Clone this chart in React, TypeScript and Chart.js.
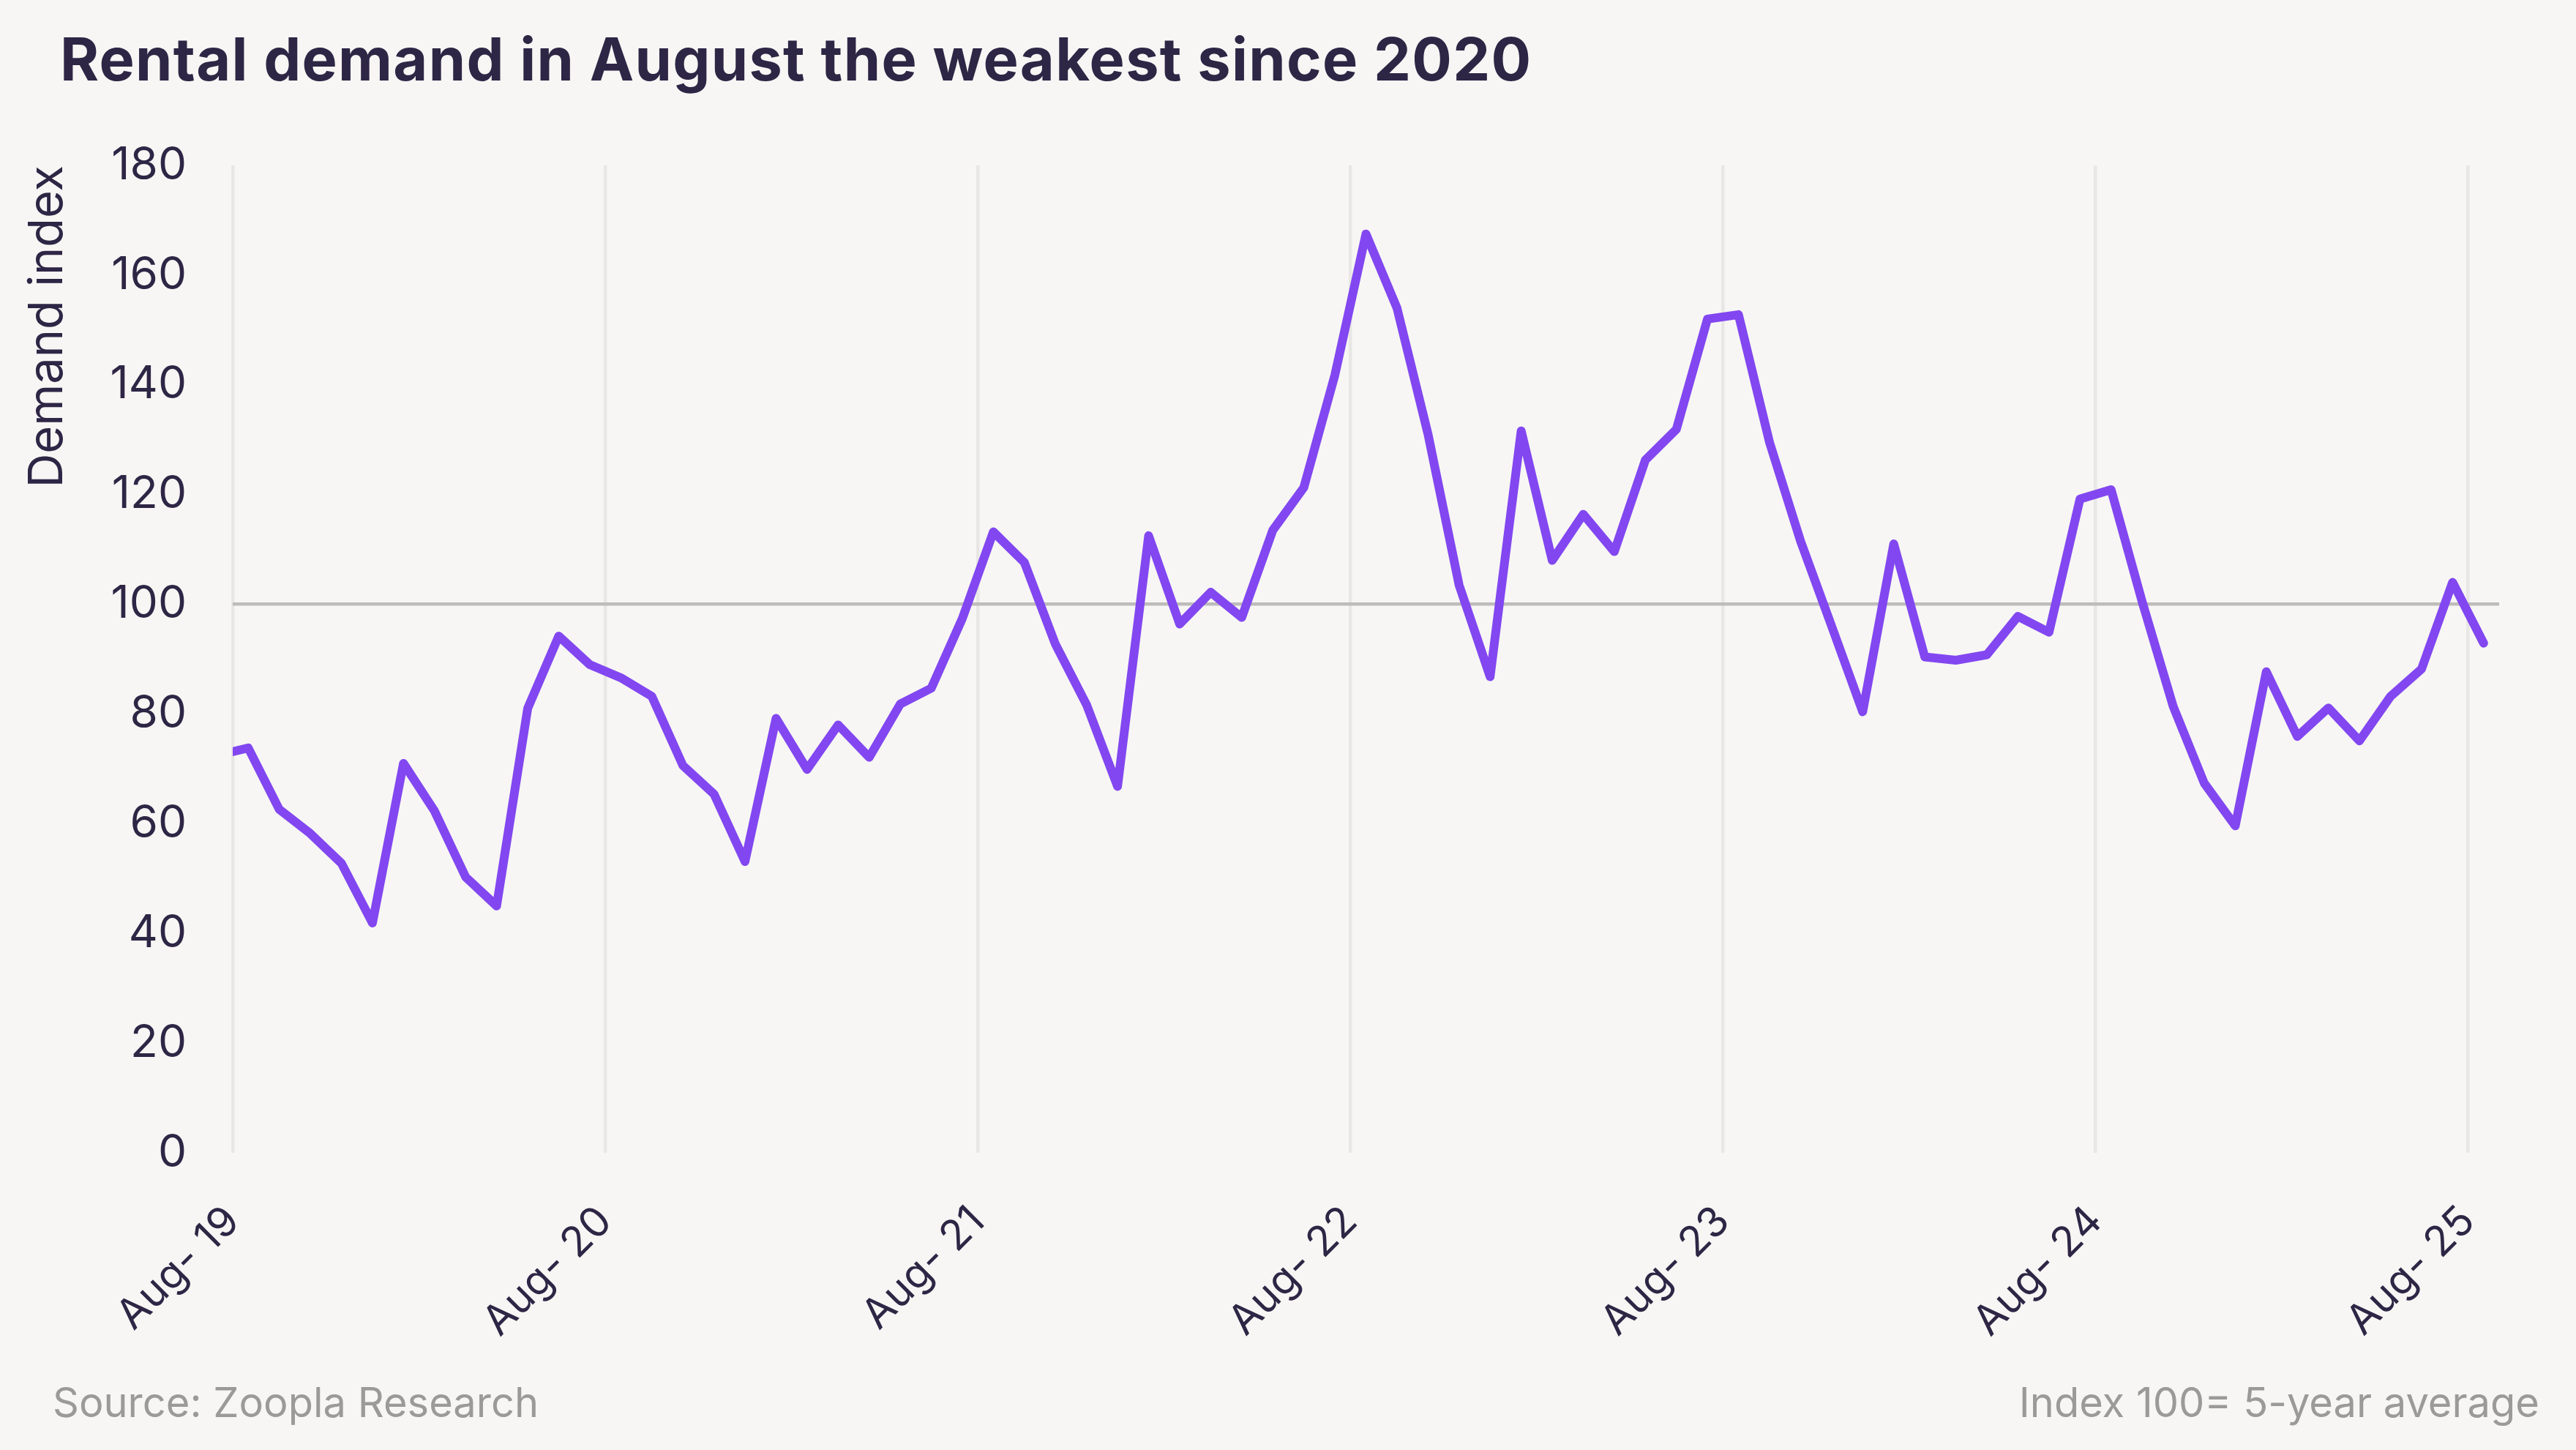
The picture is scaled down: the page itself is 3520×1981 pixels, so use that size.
import React, { useEffect, useRef } from "react";
import { Chart, registerables } from "chart.js";

Chart.register(...registerables);

// Monthly categories (Jul-19 is partly outside the axis window and is clipped)
const months = [
  "Jul-19", "Aug-19", "Sep-19", "Oct-19", "Nov-19", "Dec-19",
  "Jan-20", "Feb-20", "Mar-20", "Apr-20", "May-20", "Jun-20", "Jul-20", "Aug-20", "Sep-20", "Oct-20", "Nov-20", "Dec-20",
  "Jan-21", "Feb-21", "Mar-21", "Apr-21", "May-21", "Jun-21", "Jul-21", "Aug-21", "Sep-21", "Oct-21", "Nov-21", "Dec-21",
  "Jan-22", "Feb-22", "Mar-22", "Apr-22", "May-22", "Jun-22", "Jul-22", "Aug-22", "Sep-22", "Oct-22", "Nov-22", "Dec-22",
  "Jan-23", "Feb-23", "Mar-23", "Apr-23", "May-23", "Jun-23", "Jul-23", "Aug-23", "Sep-23", "Oct-23", "Nov-23", "Dec-23",
  "Jan-24", "Feb-24", "Mar-24", "Apr-24", "May-24", "Jun-24", "Jul-24", "Aug-24", "Sep-24", "Oct-24", "Nov-24", "Dec-24",
  "Jan-25", "Feb-25", "Mar-25", "Apr-25", "May-25", "Jun-25", "Jul-25", "Aug-25",
];

// Rental demand index (100 = 5-year average)
const demandIndex = [
  72.5, 73.8, 62.6, 58.2, 52.8, 41.9,
  71.0, 62.3, 50.3, 45.0, 81.0, 94.2, 89.0, 86.6, 83.2, 70.6, 65.4, 53.1,
  79.2, 69.9, 78.0, 72.1, 81.8, 84.7, 97.4, 113.2, 107.6, 92.7, 81.7, 66.8,
  112.5, 96.4, 102.2, 97.6, 113.5, 121.3, 141.8, 167.5, 154.0, 131.0, 103.5, 86.8,
  131.6, 108.0, 116.4, 109.6, 126.3, 131.9, 152.0, 152.8, 129.5, 111.5, 96.0, 80.4,
  111.0, 90.4, 89.8, 90.8, 97.8, 94.9, 119.2, 120.9, 100.5, 81.4, 67.4, 59.6,
  87.7, 75.9, 81.1, 75.1, 83.2, 88.2, 104.0, 92.9,
];

// X axis: months counted from Aug-19; ticks every August
const firstMonthOffset = -1; // Jul-19 is one month before Aug-19
const axisMonths = { min: 0, max: 73 };
const tickMonths = [0, 12, 24, 36, 48, 60, 72];
const tickLabels = ["Aug- 19", "Aug- 20", "Aug- 21", "Aug- 22", "Aug- 23", "Aug- 24", "Aug- 25"];

// Y axis
const yRange = { min: 0, max: 180, step: 20 };
const referenceLevel = 100;

const TEXT = "#2e2645";
const FONT = "Inter, 'Noto Sans', sans-serif";

export default function App() {
  const canvasRef = useRef<HTMLCanvasElement | null>(null);

  useEffect(() => {
    const canvas = canvasRef.current;
    if (!canvas) return;
    const points = demandIndex.map((v, i) => ({ x: i + firstMonthOffset + 0.5, y: v }));
    const chart = new Chart(canvas, {
      type: "line",
      data: {
        labels: months,
        datasets: [
          {
            label: "Demand index",
            data: points,
            borderColor: "#8247f0",
            borderWidth: 12,
            pointRadius: 0,
            tension: 0,
            borderJoinStyle: "round",
            borderCapStyle: "round",
            fill: false,
            clip: 0,
          },
        ],
      },
      options: {
        animation: false,
        responsive: false,
        maintainAspectRatio: false,
        devicePixelRatio: 1,
        layout: { padding: { left: 0, right: 105, top: 226, bottom: 0 } },
        plugins: {
          legend: { display: false },
          tooltip: { enabled: false },
        },
        scales: {
          x: {
            type: "linear",
            min: axisMonths.min,
            max: axisMonths.max,
            afterBuildTicks: (scale: any) => {
              scale.ticks = tickMonths.map((v) => ({ value: v }));
            },
            afterFit: (scale: any) => {
              scale.height = 406;
            },
            grid: { color: "#e8e7e5", lineWidth: 4.5, drawTicks: false },
            border: { display: false },
            ticks: {
              autoSkip: false,
              minRotation: 45,
              maxRotation: 45,
              padding: 60,
              color: TEXT,
              font: { family: FONT, size: 57 },
              callback: (value: any) => {
                const i = tickMonths.indexOf(Number(value));
                return i >= 0 ? tickLabels[i] : "";
              },
            },
          },
          y: {
            min: yRange.min,
            max: yRange.max,
            afterFit: (scale: any) => {
              scale.width = 318;
            },
            grid: {
              color: (ctx: any) => (ctx.tick && ctx.tick.value === referenceLevel ? "#bdbcbb" : "rgba(0,0,0,0)"),
              lineWidth: 4.5,
              drawTicks: false,
            },
            border: { display: false },
            ticks: {
              stepSize: yRange.step,
              padding: 63,
              color: TEXT,
              font: { family: FONT, size: 62 },
            },
            title: {
              display: true,
              text: "Demand index",
              align: "end",
              color: TEXT,
              font: { family: FONT, size: 65 },
              padding: { top: 26, bottom: 0 },
            },
          },
        },
      },
    });
    return () => chart.destroy();
  }, []);

  return (
    <div
      style={{
        position: "absolute",
        left: 0,
        top: 0,
        width: 3520,
        height: 1981,
        background: "#f7f6f4",
        overflow: "hidden",
        fontFamily: FONT,
      }}
    >
      <div
        style={{
          position: "absolute",
          left: 82,
          top: 41,
          fontSize: 81,
          lineHeight: 1,
          fontWeight: 700,
          letterSpacing: 1.3,
          color: TEXT,
          whiteSpace: "nowrap",
        }}
      >
        Rental demand in August the weakest since 2020
      </div>
      <canvas
        ref={canvasRef}
        width={3520}
        height={1981}
        style={{ position: "absolute", left: 0, top: 0, width: 3520, height: 1981 }}
      />
      <div
        style={{
          position: "absolute",
          left: 72,
          top: 1888,
          fontSize: 56,
          lineHeight: 1,
          color: "#9b9a99",
          whiteSpace: "nowrap",
        }}
      >
        Source: Zoopla Research
      </div>
      <div
        style={{
          position: "absolute",
          right: 50,
          top: 1888,
          fontSize: 56,
          lineHeight: 1,
          color: "#9b9a99",
          whiteSpace: "nowrap",
        }}
      >
        Index 100= 5-year average
      </div>
    </div>
  );
}
